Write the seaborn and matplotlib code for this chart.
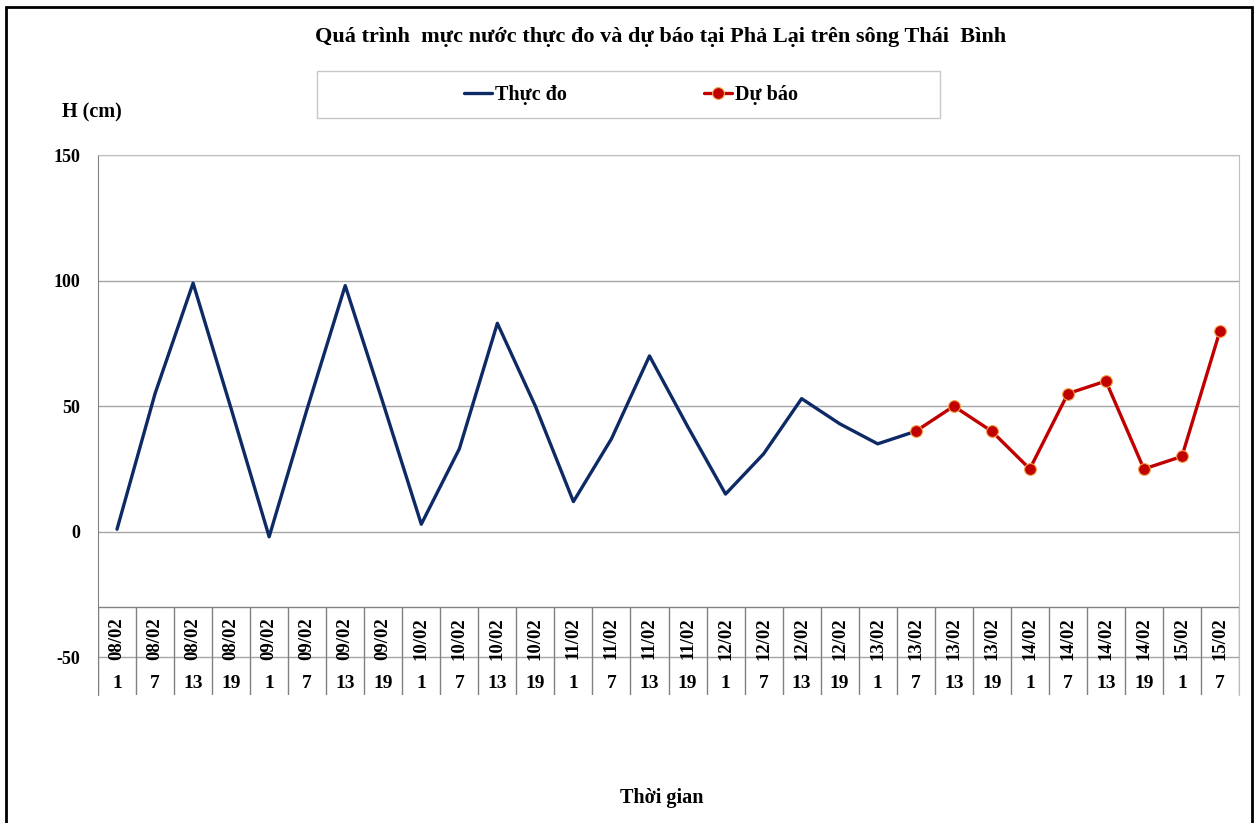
import matplotlib
matplotlib.use("Agg")
import matplotlib.pyplot as plt
from matplotlib.patches import Rectangle
import seaborn as sns
import pandas as pd
import numpy as np

dates = ["08/02"] * 4 + ["09/02"] * 4 + ["10/02"] * 4 + ["11/02"] * 4 + \
        ["12/02"] * 4 + ["13/02"] * 4 + ["14/02"] * 4 + ["15/02"] * 2
hours = ["1", "7", "13", "19"] * 7 + ["1", "7"]
observed = [1, 55, 99, 49, -2, 49, 98, 51, 3, 33, 83, 50, 12, 37, 70, 42,
            15, 31, 53, 43, 35, 40]
forecast = [40, 50, 40, 25, 55, 60, 25, 30, 80]
forecast_start = 21
yticks = [-50, 0, 50, 100, 150]

sns.set_style("white")
plt.rcParams['font.family'] = ['Liberation Serif', 'DejaVu Serif']
plt.rcParams['font.weight'] = 'bold'
plt.rcParams['text.color'] = 'black'
plt.rcParams['ytick.color'] = 'black'
plt.rcParams['ytick.labelcolor'] = 'black'
plt.rcParams['legend.labelcolor'] = 'black'

W, H = 1257, 823
fig = plt.figure(figsize=(W / 100, H / 100), dpi=100)
ax = fig.add_axes([98 / W, 1 - 695 / H, (1239 - 98) / W, (695 - 155) / H])

df_obs = pd.DataFrame({"x": np.arange(len(observed)), "y": observed})
df_fc = pd.DataFrame({"x": np.arange(forecast_start, forecast_start + len(forecast)),
                      "y": forecast})

sns.lineplot(data=df_obs, x="x", y="y", ax=ax, color="#0E2A66", linewidth=2.4,
             label="Thực đo")
sns.lineplot(data=df_fc, x="x", y="y", ax=ax, color="#C00000", linewidth=2.4,
             marker="o", markersize=8.5, markeredgecolor="#F5A54A",
             markeredgewidth=0.8, label="Dự báo")

n = len(dates)
ax.set_xlim(-0.5, n - 0.5)
ax.set_ylim(-65, 150)
ax.set_yticks(yticks)
ax.set_yticklabels([str(v) for v in yticks], fontsize=13, fontweight='bold',
                   color='black')
ax.tick_params(axis='y', length=0, pad=13)
ax.set_xticks([])
ax.set_xlabel("")
ax.set_ylabel("")
for v in yticks:
    ax.axhline(v, color="#a6a6a6", linewidth=1.0, zorder=0)
ax.axhline(-30, color="#808080", linewidth=1.0, zorder=1)
ax.vlines(np.arange(n + 1) - 0.5, -65, -30, color="#808080", linewidth=1.0)
for i, (d, h) in enumerate(zip(dates, hours)):
    ax.text(i, -42.5, d, rotation=90, ha='center', va='center', fontsize=13.5,
            fontweight='bold', color='black')
    ax.text(i, -60.5, h, ha='center', va='center', fontsize=14,
            fontweight='bold', color='black')

for s in ['top', 'right']:
    ax.spines[s].set_color("#bfbfbf")
ax.spines['left'].set_color("#808080")
ax.spines['bottom'].set_visible(False)

# legend
leg = ax.legend(loc='center', bbox_to_anchor=(631 / W, 1 - 95 / H),
                bbox_transform=fig.transFigure, ncol=2, frameon=False,
                handlelength=1.4, handletextpad=0.15,
                columnspacing=6.8, prop={'weight': 'bold', 'size': 14.5})
for t in leg.get_texts():
    t.set_color('black')
fig.patches.append(Rectangle((317 / W, 1 - 118 / H), (940 - 317) / W, 47 / H,
                             transform=fig.transFigure, fill=False,
                             edgecolor="#c8c8c8", linewidth=1.0))

fig.text(661 / W, 1 - 37 / H,
         "Quá trình  mực nước thực đo và dự báo tại Phả Lại trên sông Thái  Bình",
         ha='center', va='center', fontsize=16, fontweight='bold', color='black')
fig.text(92 / W, 1 - 112 / H, "H (cm)", ha='center', va='center', fontsize=14.5,
         fontweight='bold', color='black')
fig.text(662 / W, 1 - 798 / H, "Thời gian", ha='center', va='center', fontsize=14.5,
         fontweight='bold', color='black')

# outer frame
fig.patches.append(Rectangle((6 / W, -0.02), (1252 - 6) / W, 1.02 - 7 / H,
                             transform=fig.transFigure, fill=False,
                             edgecolor="black", linewidth=2.0))

fig.savefig("out.png", dpi=100)
